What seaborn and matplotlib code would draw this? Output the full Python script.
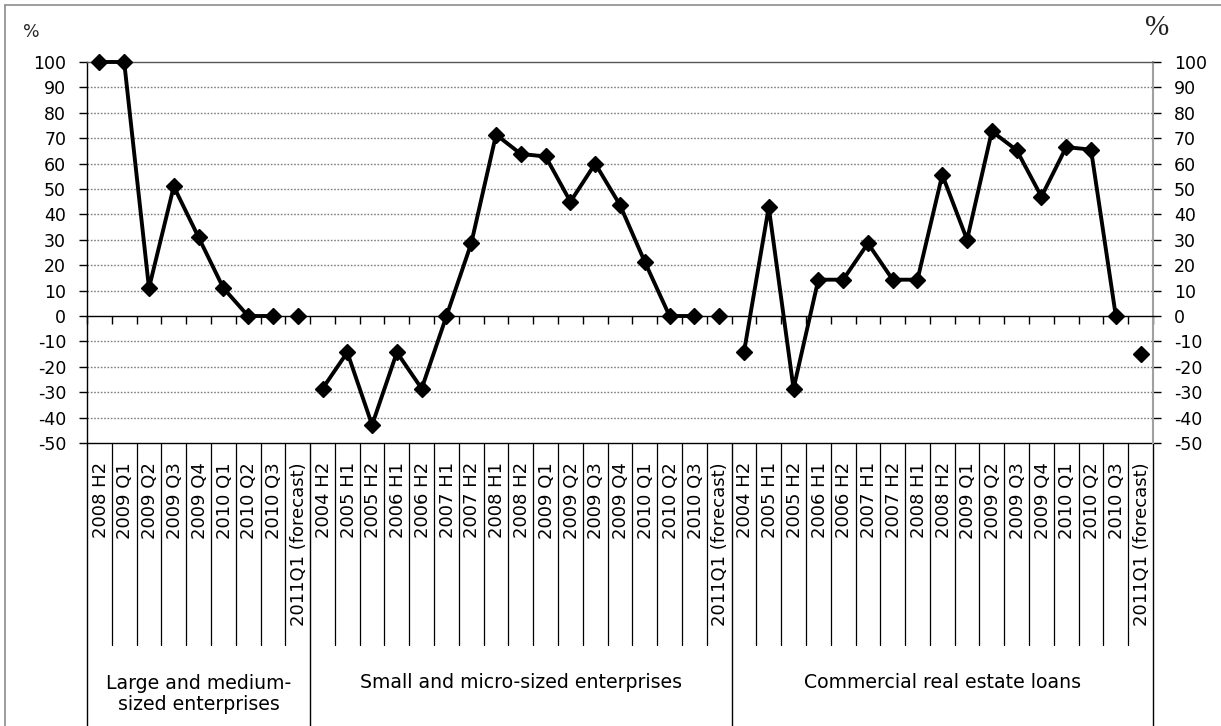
import numpy as np
import pandas as pd
import matplotlib
matplotlib.use("Agg")
import matplotlib.pyplot as plt
import seaborn as sns
from matplotlib.transforms import blended_transform_factory
from matplotlib.lines import Line2D

# ---------------- data ----------------
group_names = ["Large and medium-\nsized enterprises",
               "Small and micro-sized enterprises",
               "Commercial real estate loans"]

large_labels = ["2008 H2", "2009 Q1", "2009 Q2", "2009 Q3", "2009 Q4",
                "2010 Q1", "2010 Q2", "2010 Q3", "2011Q1 (forecast)"]
large_values = [100, 100, 11, 51, 31, 11, 0, 0, 0]

small_labels = ["2004 H2", "2005 H1", "2005 H2", "2006 H1", "2006 H2",
                "2007 H1", "2007 H2", "2008 H1", "2008 H2", "2009 Q1",
                "2009 Q2", "2009 Q3", "2009 Q4", "2010 Q1", "2010 Q2",
                "2010 Q3", "2011Q1 (forecast)"]
small_values = [-28.6, -14.3, -42.9, -14.3, -28.6, 0, 28.6, 71.4, 63.8, 62.8,
                45, 60, 43.7, 21.3, 0, 0, 0]

cre_labels = ["2004 H2", "2005 H1", "2005 H2", "2006 H1", "2006 H2",
              "2007 H1", "2007 H2", "2008 H1", "2008 H2", "2009 Q1",
              "2009 Q2", "2009 Q3", "2009 Q4", "2010 Q1", "2010 Q2",
              "2010 Q3", "2011Q1 (forecast)"]
cre_values = [-14.3, 42.9, -28.6, 14.3, 14.3, 28.6, 14.3, 14.3, 55.6, 30,
              72.7, 65.3, 47, 66.5, 65.5, 0, -15]

yticks = list(range(-50, 101, 10))

# ---------------- build table ----------------
rows = []
pos = 0
seg = 0
group_bounds = []
all_labels = []
for labels, values in [(large_labels, large_values),
                       (small_labels, small_values),
                       (cre_labels, cre_values)]:
    start = pos
    n = len(values)
    for i, (lab, v) in enumerate(zip(labels, values)):
        s = seg if i < n - 1 else seg + 1   # forecast point stands alone
        rows.append({"x": pos, "value": v, "segment": s})
        all_labels.append(lab)
        pos += 1
    seg += 2
    group_bounds.append((start - 0.5, pos - 0.5))
df = pd.DataFrame(rows)
ncat = len(df)

# ---------------- figure ----------------
sns.set_theme(style="white")
plt.rcParams["font.family"] = ["DejaVu Sans"]

W, H = 1221, 726
fig = plt.figure(figsize=(W / 100, H / 100), dpi=100)
L, R, T, B = 87, 1153, 62, 443
ax = fig.add_axes([L / W, (H - B) / H, (R - L) / W, (B - T) / H])

def yax(py):
    return (B - py) / (B - T)

# gridlines
for v in yticks:
    if v in (-50, 0, 100):
        continue
    ax.axhline(v, color="#7f7f7f", lw=1.0, ls=(0, (1.2, 1.2)), zorder=1)
ax.axhline(-50, color="black", lw=1.0, zorder=2, clip_on=False)

sns.lineplot(data=df, x="x", y="value", units="segment", estimator=None,
             sort=False, color="black", lw=2.8, marker="D", markersize=8,
             markeredgecolor="black", markeredgewidth=1, ax=ax,
             legend=False, zorder=5, clip_on=False)

ax.set_xlim(-0.5, ncat - 0.5)
ax.set_ylim(-50, 100)
ax.set_xlabel("")
ax.set_ylabel("")

# x axis at zero with boundary ticks
ax.spines["bottom"].set_position(("data", 0))
ax.spines["bottom"].set_color("black")
ax.spines["bottom"].set_linewidth(1.0)
ax.set_xticks(np.arange(-0.5, ncat, 1.0))
ax.tick_params(axis="x", which="major", direction="out", length=6,
               width=1, color="black", labelbottom=False, bottom=True)

ax.spines["top"].set_color("#555555")
ax.spines["top"].set_linewidth(1.0)
ax.spines["left"].set_color("black")
ax.spines["left"].set_linewidth(1.0)
ax.spines["right"].set_color("#a0a0a0")
ax.spines["right"].set_linewidth(1.5)

ax.set_yticks(yticks)
ax.set_yticklabels([str(v) for v in yticks])
ax.tick_params(axis="y", which="major", left=True, right=True,
               labelleft=True, labelright=True, direction="out",
               length=6, width=1, pad=9, labelsize=12.5, colors="black")
for t in ax.yaxis.get_major_ticks():
    t.tick2line.set_color("#a0a0a0")
    t.tick1line.set_color("black")

# category separators and labels below the plot
tr = blended_transform_factory(ax.transData, ax.transAxes)
bnds = {b for g in group_bounds for b in g}
for b in np.arange(-0.5, ncat, 1.0):
    if b in bnds:
        ax.plot([b, b], [0, yax(H + 5)], transform=tr, color="black",
                lw=1.0, clip_on=False)
    else:
        ax.plot([b, b], [0, yax(645)], transform=tr, color="black",
                lw=0.9, clip_on=False)
for i, lab in enumerate(all_labels):
    ax.text(i + 0.05, yax(462), lab, rotation=90, ha="center", va="top",
            transform=tr, fontsize=13, color="black")

for (a, b), name in zip(group_bounds, group_names):
    cy = 694 if "\n" in name else 682
    ax.text((a + b) / 2, yax(cy), name, ha="center", va="center",
            transform=tr, fontsize=13.6, linespacing=1.15, color="black")

# unit labels
fig.text(31 / W, 1 - 32 / H, "%", ha="center", va="center", fontsize=12.5)
fig.text(1157 / W, 1 - 28 / H, "%", ha="center", va="center",
         fontsize=21, family=["Liberation Serif", "DejaVu Serif"],
         color="#222222")

# outer frame (top and left edges visible)
fig.add_artist(Line2D([5 / W, 5 / W], [0, 1 - 5 / H], color="#8c8c8c",
                      lw=1.2, transform=fig.transFigure))
fig.add_artist(Line2D([5 / W, 1], [1 - 5 / H, 1 - 5 / H], color="#8c8c8c",
                      lw=1.2, transform=fig.transFigure))

fig.savefig("out.png", dpi=100, facecolor="white")
